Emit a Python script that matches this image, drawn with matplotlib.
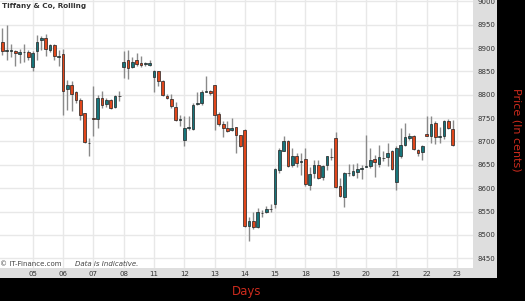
import matplotlib
matplotlib.use("Agg")
import matplotlib.pyplot as plt
import numpy as np

day_labels = ["05", "06", "07", "08", "11", "12", "13", "14", "15", "18", "19", "20", "21", "22", "23"]
candles_per_day = 7

opens = [8914, 8894, 8894, 8894, 8887, 8891, 8891, 8859, 8893, 8917, 8922, 8895, 8906, 8881,
         8888, 8812, 8821, 8805, 8789, 8761, 8696, 8751, 8749, 8793, 8781, 8788, 8773, 8797,
         8859, 8875, 8859, 8874, 8869, 8866, 8863, 8839, 8850, 8829, 8798, 8791, 8774, 8746,
         8704, 8729, 8726, 8780, 8782, 8807, 8809, 8821, 8759, 8737, 8729, 8725, 8730, 8713,
         8725, 8518, 8529, 8516, 8546, 8548, 8555, 8566, 8638, 8680, 8701, 8650, 8668, 8656,
         8663, 8607, 8632, 8650, 8624, 8649, 8666, 8707, 8605, 8582, 8632, 8629, 8634, 8641,
         8646, 8648, 8663, 8652, 8664, 8666, 8679, 8613, 8668, 8693, 8707, 8712, 8682, 8677,
         8717, 8711, 8739, 8709, 8711, 8744, 8727]
highs = [8943, 8950, 8909, 8896, 8898, 8909, 8895, 8893, 8927, 8926, 8930, 8909, 8909, 8895,
         8898, 8832, 8829, 8809, 8793, 8761, 8707, 8818, 8800, 8809, 8793, 8791, 8800, 8809,
         8893, 8896, 8881, 8889, 8882, 8871, 8874, 8854, 8852, 8832, 8801, 8802, 8784, 8757,
         8755, 8755, 8782, 8807, 8811, 8841, 8811, 8821, 8764, 8743, 8743, 8750, 8732, 8714,
         8726, 8539, 8550, 8557, 8554, 8561, 8566, 8643, 8686, 8711, 8704, 8686, 8675, 8675,
         8686, 8646, 8661, 8661, 8650, 8669, 8686, 8721, 8621, 8634, 8652, 8652, 8654, 8650,
         8714, 8686, 8671, 8693, 8679, 8696, 8682, 8691, 8729, 8739, 8718, 8714, 8684, 8693,
         8755, 8754, 8743, 8732, 8745, 8748, 8745]
lows = [8886, 8875, 8881, 8861, 8868, 8871, 8875, 8852, 8875, 8895, 8882, 8891, 8874, 8861,
        8757, 8768, 8766, 8782, 8746, 8696, 8668, 8711, 8729, 8771, 8774, 8769, 8771, 8786,
        8836, 8834, 8857, 8862, 8859, 8861, 8861, 8805, 8818, 8798, 8791, 8771, 8743, 8734,
        8691, 8725, 8725, 8779, 8779, 8805, 8800, 8724, 8734, 8709, 8721, 8723, 8676, 8688,
        8516, 8486, 8512, 8514, 8539, 8546, 8550, 8557, 8632, 8679, 8646, 8646, 8645, 8629,
        8605, 8596, 8621, 8619, 8618, 8639, 8661, 8600, 8581, 8559, 8625, 8625, 8621, 8619,
        8645, 8643, 8624, 8646, 8659, 8648, 8639, 8597, 8664, 8691, 8704, 8681, 8669, 8661,
        8711, 8696, 8695, 8696, 8705, 8727, 8691]
closes = [8893, 8894, 8894, 8889, 8891, 8891, 8881, 8889, 8914, 8922, 8899, 8906, 8882, 8881,
          8809, 8820, 8802, 8789, 8756, 8698, 8696, 8749, 8793, 8779, 8788, 8771, 8798, 8797,
          8871, 8857, 8871, 8866, 8863, 8866, 8869, 8850, 8830, 8800, 8793, 8775, 8746, 8746,
          8729, 8729, 8779, 8783, 8807, 8807, 8804, 8757, 8737, 8729, 8723, 8729, 8713, 8691,
          8518, 8529, 8516, 8550, 8546, 8555, 8555, 8641, 8682, 8700, 8648, 8668, 8654, 8656,
          8609, 8631, 8650, 8621, 8648, 8668, 8666, 8602, 8584, 8632, 8632, 8636, 8641, 8641,
          8646, 8661, 8655, 8666, 8664, 8676, 8641, 8686, 8693, 8709, 8712, 8684, 8676, 8691,
          8712, 8738, 8709, 8712, 8743, 8729, 8693]

price_ticks = list(range(8450, 9001, 50))

W, H = 525, 301
fig = plt.figure(figsize=(W / 100, H / 100), dpi=100, facecolor="black")

# grey tick panels
bg = fig.add_axes([0, 23 / H, 497 / W, 278 / H])
bg.set_facecolor("#dedede")
bg.set_xticks([])
bg.set_yticks([])
for s in bg.spines.values():
    s.set_visible(False)

ax = fig.add_axes([0, 33 / H, 473 / W, 268 / H])
ax.set_facecolor("white")
for s in ax.spines.values():
    s.set_visible(False)

o = np.array(opens, float)
h = np.array(highs, float)
l = np.array(lows, float)
c = np.array(closes, float)
x = np.arange(len(o))

teal = "#17757b"
red = "#e0461b"
ax.vlines(x, l, h, color="#8a8a8a", lw=1.0, zorder=2)
up = c >= o
body_bottom = np.minimum(o, c)
body_h = np.maximum(np.abs(c - o), 1.3)
colors = [teal if u else red for u in up]
ax.bar(x, body_h, bottom=body_bottom, width=0.62, color=colors,
       edgecolor="#222222", linewidth=0.5, zorder=3)

tick_pos = (np.arange(len(day_labels)) + 1) * candles_per_day
ax.set_xticks(tick_pos)
ax.set_xticklabels(day_labels)
ax.set_yticks(price_ticks)
ax.set_yticklabels([str(p) for p in price_ticks])
ax.yaxis.tick_right()
ax.tick_params(axis="both", length=0, labelsize=5, colors="#333333")
ax.tick_params(axis="y", pad=3)
ax.tick_params(axis="x", pad=2.5)
ax.grid(True, color="#e8e8e8", lw=1.0, zorder=0)
ax.set_axisbelow(True)
ax.set_xlim(-0.54, 108.7)
ax.set_ylim(8429, 9003)

ax.text(0.005, 0.99, "Tiffany & Co, Rolling", transform=ax.transAxes, fontsize=5.2,
        fontweight="bold", color="#333333", va="top", ha="left")
ax.text(0.0, 0.0055, "© IT-Finance.com", transform=ax.transAxes, fontsize=5,
        color="#444444", va="bottom", ha="left")
ax.text(75 / 473, 0.0055, "Data is Indicative.", transform=ax.transAxes, fontsize=5,
        color="#444444", va="bottom", ha="left", style="italic")

fig.text(247 / W, 1 - 291.5 / H, "Days", color="#cc2b1d", fontsize=8.5,
         ha="center", va="center")
fig.text(516 / W, 1 - 130 / H, "Price (In cents)", color="#cc2b1d", fontsize=8,
         ha="center", va="center", rotation=270)

fig.savefig("out.png", dpi=100, facecolor="black")
